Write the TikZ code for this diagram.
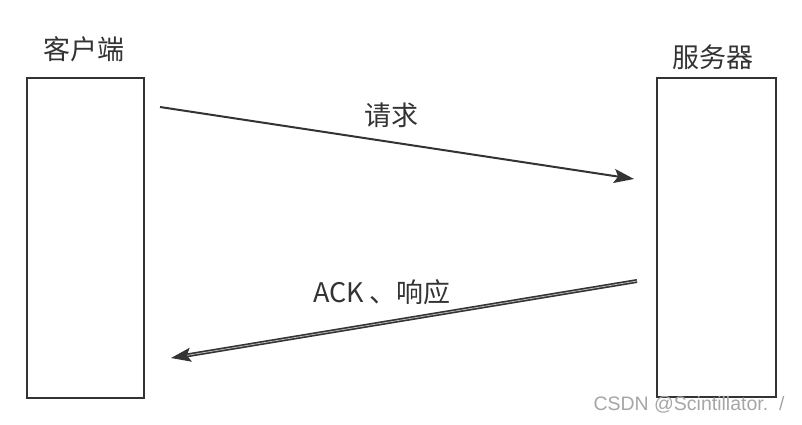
\documentclass[tikz,border=0pt]{standalone}
\usepackage{fontspec}
\setmainfont{Noto Sans CJK SC}
\newfontfamily\markfont{Liberation Sans}
\usetikzlibrary{arrows.meta}
\definecolor{ink}{HTML}{333333}

\begin{document}
\begin{tikzpicture}[x=1pt,y=-1pt,
    party/.style={draw=ink,line width=2pt,fill=white},
    msg/.style={draw=ink,line width=2pt,-{Stealth[length=20pt,width=14pt,inset=4pt]}},
    reply/.style={draw=ink,line width=1.6pt,double=gray!55,double distance=0.8pt,-{Stealth[length=20pt,width=14pt,inset=4pt]}},
    lbl/.style={text=ink,font=\fontsize{27}{30}\selectfont,inner sep=0pt}]
                \useasboundingbox (0,0) rectangle (802,424);

                \draw[party] (27,78) rectangle (144,398);
                \draw[party] (657,78) rectangle (776,397);

                \node[lbl] (client) at (84,49) {客户端};
                \node[lbl] (server) at (713,57) {服务器};

                \coordinate (reqA) at (160,107);
                \coordinate (reqB) at (634,179);
                \coordinate (ackA) at (637,281);
                \coordinate (ackB) at (171,358);

                \draw[msg] (reqA) -- (reqB);
                \draw[reply] (ackA) -- (ackB);

                \node[lbl] (req) at (391,115) {请求};
                \node[lbl] (ack) at (382,292) {ACK 、响应};

                \node[text=gray!70,font=\markfont\fontsize{19.5}{22}\selectfont,inner sep=0pt] (mark) at (689,405) {CSDN @Scintillator.\ \ /};
            \end{tikzpicture}
\end{document}
